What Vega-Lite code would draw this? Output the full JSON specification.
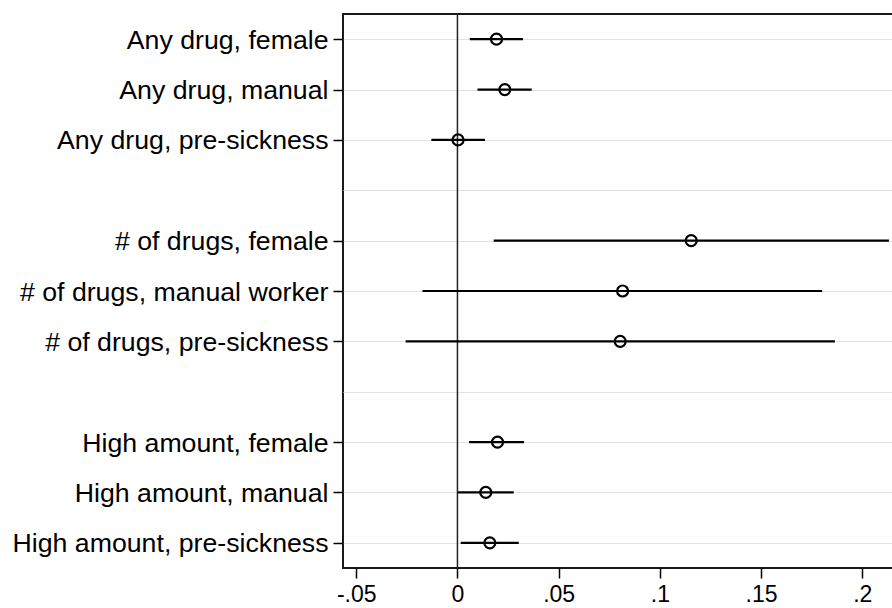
{
  "$schema": "https://vega.github.io/schema/vega-lite/v6.json",
  "width": 550,
  "height": 554,
  "autosize": {"type": "none"},
  "padding": {"left": 343, "top": 14, "right": 0, "bottom": 40},
  "background": "white",
  "config": {
    "font": "Liberation Sans",
    "view": {"stroke": "#1a1a1a", "strokeWidth": 2},
    "axis": {"labelColor": "black", "tickColor": "black", "tickWidth": 1.5, "domain": false}
  },
  "datasets": {
    "coefs": [
      {"label": "Any drug, female", "b": 0.0193, "lo": 0.0061, "hi": 0.0324},
      {"label": "Any drug, manual", "b": 0.0234, "lo": 0.0099, "hi": 0.0367},
      {"label": "Any drug, pre-sickness", "b": 0.0003, "lo": -0.0129, "hi": 0.0136},
      {"label": "# of drugs, female", "b": 0.1155, "lo": 0.0179, "hi": 0.2132},
      {"label": "# of drugs, manual worker", "b": 0.0816, "lo": -0.0173, "hi": 0.1802},
      {"label": "# of drugs, pre-sickness", "b": 0.0804, "lo": -0.0256, "hi": 0.1865},
      {"label": "High amount, female", "b": 0.0198, "lo": 0.0057, "hi": 0.0329},
      {"label": "High amount, manual", "b": 0.014, "lo": 0.0003, "hi": 0.0278},
      {"label": "High amount, pre-sickness", "b": 0.016, "lo": 0.0016, "hi": 0.0303}
    ],
    "zero": [{"z": 0}]
  },
  "encoding": {
    "y": {
      "field": "label",
      "type": "nominal",
      "scale": {
        "type": "point",
        "padding": 0.5,
        "domain": [
          "Any drug, female", "Any drug, manual", "Any drug, pre-sickness", "gap1",
          "# of drugs, female", "# of drugs, manual worker", "# of drugs, pre-sickness", "gap2",
          "High amount, female", "High amount, manual", "High amount, pre-sickness"
        ]
      },
      "axis": {
        "title": null,
        "grid": true,
        "gridColor": "#e3e3e3",
        "gridWidth": 1,
        "tickSize": 10,
        "tickColor": {"condition": {"test": "indexof(datum.value, 'gap') == 0", "value": "transparent"}, "value": "black"},
        "labelExpr": "indexof(datum.value, 'gap') == 0 ? '' : datum.value",
        "labelFontSize": 26.7,
        "labelPadding": 5,
        "labelOffset": 1,
        "labelLimit": 0
      }
    }
  },
  "layer": [
    {
      "data": {"name": "zero"},
      "mark": {"type": "rule", "color": "#222222", "strokeWidth": 1.5},
      "encoding": {
        "x": {"field": "z", "type": "quantitative"},
        "y": null
      }
    },
    {
      "data": {"name": "coefs"},
      "mark": {"type": "rule", "color": "black", "strokeWidth": 2.2},
      "encoding": {
        "x": {
          "field": "lo",
          "type": "quantitative",
          "scale": {"domain": [-0.05655, 0.2152], "nice": false, "zero": false},
          "axis": {
            "title": null,
            "grid": false,
            "values": [-0.05, 0, 0.05, 0.1, 0.15, 0.2],
            "labelExpr": "replace(toString(datum.value), '0.', '.')",
            "tickSize": 10,
            "labelFontSize": 23,
            "labelPadding": 5
          }
        },
        "x2": {"field": "hi"}
      }
    },
    {
      "data": {"name": "coefs"},
      "mark": {"type": "point", "shape": "circle", "filled": false, "size": 121, "strokeWidth": 2.2, "color": "black", "opacity": 1},
      "encoding": {
        "x": {"field": "b", "type": "quantitative"}
      }
    }
  ]
}
